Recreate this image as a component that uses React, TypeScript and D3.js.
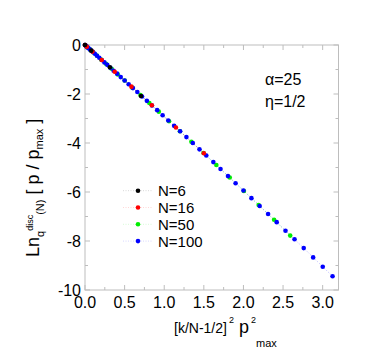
import React from "react";
import * as d3 from "d3";

// [k/N-1/2]^2 p^2_max values, one list per N
const xN6 = [0, 0.079, 0.314, 0.707];
const yN6 = [0, -0.23, -0.91, -2.08];

const xN16 = [0, 0.023, 0.094, 0.211, 0.375, 0.586, 0.844, 1.148, 1.5];
const yN16 = [0, -0.07, -0.27, -0.61, -1.09, -1.7, -2.46, -3.37, -4.42];

const xN50 = [
  0, 0.004, 0.017, 0.037, 0.066, 0.104, 0.149, 0.203, 0.265, 0.336, 0.414,
  0.501, 0.597, 0.7, 0.812, 0.932, 1.061, 1.198, 1.343, 1.496, 1.658, 1.827,
  2.006, 2.192, 2.387, 2.59,
];
const yN50 = [
  0, -0.01, -0.05, -0.11, -0.19, -0.3, -0.43, -0.59, -0.77, -0.97, -1.2,
  -1.45, -1.74, -2.04, -2.37, -2.72, -3.11, -3.52, -3.95, -4.41, -4.9, -5.41,
  -5.96, -6.53, -7.13, -7.78,
];

const xN100 = [
  0, 0.001, 0.005, 0.011, 0.02, 0.031, 0.045, 0.061, 0.08, 0.101, 0.125,
  0.151, 0.18, 0.211, 0.245, 0.281, 0.32, 0.361, 0.405, 0.451, 0.5, 0.551,
  0.605, 0.661, 0.72, 0.781, 0.845, 0.911, 0.98, 1.051, 1.125, 1.201, 1.28,
  1.361, 1.445, 1.531, 1.62, 1.711, 1.805, 1.901, 2.0, 2.101, 2.205, 2.311,
  2.42, 2.531, 2.645, 2.761, 2.88, 3.001, 3.125,
];
const yN100 = [
  0, 0, -0.01, -0.03, -0.06, -0.09, -0.13, -0.18, -0.23, -0.29, -0.36, -0.44,
  -0.52, -0.61, -0.71, -0.81, -0.93, -1.05, -1.17, -1.31, -1.45, -1.6, -1.76,
  -1.92, -2.1, -2.28, -2.47, -2.66, -2.87, -3.08, -3.3, -3.52, -3.76, -4.0,
  -4.26, -4.51, -4.78, -5.06, -5.35, -5.64, -5.94, -6.25, -6.57, -6.9, -7.23,
  -7.58, -7.93, -8.29, -8.67, -9.05, -9.44,
];

const legendLabels = ["N=6", "N=16", "N=50", "N=100"];
const seriesColors = ["#000000", "#ff0000", "#00ee00", "#0000ff"];
const xTicks = [0, 0.5, 1, 1.5, 2, 2.5, 3];
const xMinor = [0.25, 0.75, 1.25, 1.75, 2.25, 2.75];
const yTicks = [0, -2, -4, -6, -8, -10];
const yMinor = [-1, -3, -5, -7, -9];

const W = 382;
const H = 364;
const font = "'Liberation Sans', Arial, Helvetica, sans-serif";

export default function App() {
  const x = d3.scaleLinear().domain([0, 3.2]).range([85, 338.5]);
  const y = d3.scaleLinear().domain([-10, 0]).range([290, 45]);

  const series = [
    { xs: xN6, ys: yN6 },
    { xs: xN16, ys: yN16 },
    { xs: xN50, ys: yN50 },
    { xs: xN100, ys: yN100 },
  ].map((s, i) => ({
    pts: s.xs.map((v, j) => [v, s.ys[j]] as [number, number]),
    color: seriesColors[i],
    label: legendLabels[i],
  }));

  const line = d3
    .line<[number, number]>()
    .x((d) => x(d[0]))
    .y((d) => y(d[1]));

  // green first, then blue, red and black on top
  const drawOrder = [2, 3, 1, 0];
  const [x0, x1] = x.range();
  const [y0, y1] = y.range();
  const frameColor = "#bdbdbd";

  return (
    <svg
      width={W}
      height={H}
      style={{ position: "absolute", left: 0, top: 0, background: "#fff" }}
      fontFamily={font}
    >
      {/* connecting lines */}
      {drawOrder.map((i) => (
        <path
          key={"l" + i}
          d={line(series[i].pts) || ""}
          fill="none"
          stroke={series[i].color}
          strokeOpacity={0.35}
          strokeWidth={0.8}
          strokeDasharray="1,1.5"
        />
      ))}

      {/* frame */}
      <rect
        x={x0}
        y={y1}
        width={x1 - x0}
        height={y0 - y1}
        fill="none"
        stroke={frameColor}
        strokeWidth={1}
      />
      {xTicks.map((t) => (
        <g key={"xt" + t} stroke={frameColor}>
          <line x1={x(t)} x2={x(t)} y1={y0} y2={y0 - 5} />
          <line x1={x(t)} x2={x(t)} y1={y1} y2={y1 + 5} />
        </g>
      ))}
      {xMinor.map((t) => (
        <g key={"xm" + t} stroke={frameColor}>
          <line x1={x(t)} x2={x(t)} y1={y0} y2={y0 - 3} />
          <line x1={x(t)} x2={x(t)} y1={y1} y2={y1 + 3} />
        </g>
      ))}
      {yTicks.map((t) => (
        <g key={"yt" + t} stroke={frameColor}>
          <line x1={x0} x2={x0 + 5} y1={y(t)} y2={y(t)} />
          <line x1={x1} x2={x1 - 5} y1={y(t)} y2={y(t)} />
        </g>
      ))}
      {yMinor.map((t) => (
        <g key={"ym" + t} stroke={frameColor}>
          <line x1={x0} x2={x0 + 3} y1={y(t)} y2={y(t)} />
          <line x1={x1} x2={x1 - 3} y1={y(t)} y2={y(t)} />
        </g>
      ))}

      {/* tick labels */}
      {xTicks.map((t) => (
        <text
          key={"xl" + t}
          x={x(t)}
          y={308}
          fontSize={16}
          textAnchor="middle"
          fill="#000"
        >
          {d3.format(".1f")(t)}
        </text>
      ))}
      {yTicks.map((t) => (
        <text
          key={"yl" + t}
          x={81}
          y={y(t)}
          dy="0.36em"
          fontSize={16}
          textAnchor="end"
          fill="#000"
        >
          {t === 0 ? "0" : "-" + Math.abs(t)}
        </text>
      ))}

      {/* points */}
      {drawOrder.map((i) => (
        <g key={"p" + i} fill={series[i].color}>
          {series[i].pts.map((d, j) => (
            <circle key={j} cx={x(d[0])} cy={y(d[1])} r={2.3} />
          ))}
        </g>
      ))}

      {/* legend */}
      {series.map((s, i) => {
        const ly = 190.7 + i * 16.8;
        return (
          <g key={"lg" + i}>
            <line
              x1={123}
              x2={153}
              y1={ly}
              y2={ly}
              stroke={s.color}
              strokeOpacity={0.2}
              strokeWidth={0.8}
              strokeDasharray="1,1.5"
            />
            <circle cx={138} cy={ly} r={2.3} fill={s.color} />
            <text x={158} y={ly} dy="0.36em" fontSize={15} fill="#000">
              {s.label}
            </text>
          </g>
        );
      })}

      {/* annotations */}
      <text x={265} y={85} fontSize={16} fill="#000">
        α=25
      </text>
      <text x={265} y={107} fontSize={16} fill="#000">
        η=1/2
      </text>

      {/* x axis title */}
      <text fill="#000">
        <tspan x={174} y={333} fontSize={14}>
          [k/N-1/2]
        </tspan>
        <tspan x={229} y={323} fontSize={9}>
          2
        </tspan>
        <tspan x={239} y={333} fontSize={18}>
          p
        </tspan>
        <tspan x={251} y={323} fontSize={9}>
          2
        </tspan>
        <tspan x={256} y={347} fontSize={11}>
          max
        </tspan>
      </text>

      {/* y axis title */}
      <text transform="translate(39,257) rotate(-90)" fill="#000" fontSize={18}>
        <tspan>Ln</tspan>
        <tspan fontSize={11} dy={5}>
          q
        </tspan>
        <tspan fontSize={9} dy={-11}>
          disc
        </tspan>
        <tspan fontSize={11} dy={11}>
          (N)
        </tspan>
        <tspan fontSize={18} dy={-5}>
          {" [ p / p"}
        </tspan>
        <tspan fontSize={11} dy={4}>
          max
        </tspan>
        <tspan fontSize={18} dy={-4}>
          {" ]"}
        </tspan>
      </text>
    </svg>
  );
}
